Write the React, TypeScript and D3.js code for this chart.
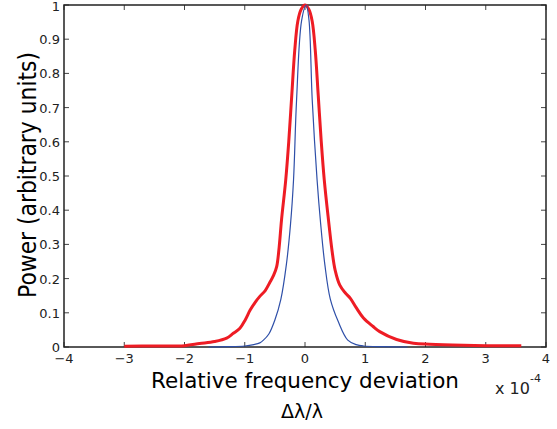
import React, { useEffect, useRef } from "react";
import * as d3 from "d3";

// x in units of 1e-4, y normalised power
const redX = [-3.0, -2.5, -2.0, -1.75, -1.5, -1.3, -1.19, -1.08, -0.99, -0.91, -0.83, -0.75, -0.66, -0.58, -0.52, -0.47, -0.43, -0.39, -0.32, -0.27, -0.22, -0.17, -0.12, -0.065, 0, 0.065, 0.12, 0.17, 0.22, 0.27, 0.32, 0.39, 0.45, 0.5, 0.58, 0.67, 0.75, 0.85, 0.97, 1.13, 1.24, 1.52, 1.8, 2.07, 2.63, 3.0, 3.59];
const redY = [0.002, 0.003, 0.004, 0.01, 0.016, 0.026, 0.04, 0.055, 0.08, 0.108, 0.13, 0.148, 0.165, 0.19, 0.21, 0.235, 0.29, 0.371, 0.488, 0.6, 0.735, 0.868, 0.952, 0.987, 1, 0.987, 0.952, 0.868, 0.735, 0.6, 0.488, 0.371, 0.28, 0.225, 0.18, 0.158, 0.143, 0.115, 0.085, 0.06, 0.045, 0.022, 0.011, 0.008, 0.005, 0.004, 0.004];

const blueX = [-1.6, -1.3, -1.0, -0.85, -0.75, -0.69, -0.6, -0.5, -0.4, -0.31, -0.24, -0.19, -0.14, -0.055, 0.02, 0.066, 0.12, 0.2, 0.26, 0.33, 0.42, 0.55, 0.71, 0.85, 0.97, 1.3, 1.7];
const blueY = [0, 0.001, 0.003, 0.007, 0.012, 0.02, 0.038, 0.079, 0.14, 0.24, 0.36, 0.49, 0.722, 0.956, 1, 0.956, 0.722, 0.49, 0.36, 0.24, 0.14, 0.075, 0.02, 0.007, 0.003, 0.001, 0];

const xTicks = [-4, -3, -2, -1, 0, 1, 2, 3, 4];
const yTicks = [0, 0.1, 0.2, 0.3, 0.4, 0.5, 0.6, 0.7, 0.8, 0.9, 1];

export default function App() {
  const ref = useRef<SVGSVGElement>(null);

  useEffect(() => {
    const svg = d3.select(ref.current);
    svg.selectAll("*").remove();

    const left = 64, right = 546, top = 5, bottom = 347;
    const x = d3.scaleLinear().domain([-4, 4]).range([left, right]);
    const y = d3.scaleLinear().domain([0, 1]).range([bottom, top]);
    const font = "DejaVu Sans, Verdana, sans-serif";
    const tickColor = "#444";

    // ticks on all four sides, pointing inward
    const g = svg.append("g");
    xTicks.forEach((t) => {
      g.append("line").attr("x1", x(t)).attr("x2", x(t)).attr("y1", bottom).attr("y2", bottom - 5).attr("stroke", tickColor);
      g.append("line").attr("x1", x(t)).attr("x2", x(t)).attr("y1", top).attr("y2", top + 5).attr("stroke", tickColor);
      g.append("text")
        .attr("x", x(t))
        .attr("y", 363)
        .attr("text-anchor", "middle")
        .attr("font-family", font)
        .attr("font-size", 13)
        .attr("fill", "#222")
        .text(t < 0 ? "\u2212" + Math.abs(t) : String(t));
    });
    yTicks.forEach((t) => {
      g.append("line").attr("x1", left).attr("x2", left + 5).attr("y1", y(t)).attr("y2", y(t)).attr("stroke", tickColor);
      g.append("line").attr("x1", right).attr("x2", right - 5).attr("y1", y(t)).attr("y2", y(t)).attr("stroke", tickColor);
      g.append("text")
        .attr("x", 60)
        .attr("y", Math.max(y(t) + 5, 11))
        .attr("text-anchor", "end")
        .attr("font-family", font)
        .attr("font-size", 13)
        .attr("fill", "#222")
        .text(d3.format("~g")(t));
    });

    g.append("rect")
      .attr("x", left)
      .attr("y", top)
      .attr("width", right - left)
      .attr("height", bottom - top)
      .attr("fill", "none")
      .attr("stroke", "#222")
      .attr("stroke-width", 1.5);

    const line = d3
      .line<[number, number]>()
      .x((d) => x(d[0]))
      .y((d) => y(d[1]))
      .curve(d3.curveCatmullRom.alpha(0.5));

    svg.append("path")
      .attr("d", line(redX.map((v, i) => [v, redY[i]] as [number, number])))
      .attr("fill", "none")
      .attr("stroke", "#ee1c24")
      .attr("stroke-width", 3);

    svg.append("path")
      .attr("d", line(blueX.map((v, i) => [v, blueY[i]] as [number, number])))
      .attr("fill", "none")
      .attr("stroke", "#2e4fa8")
      .attr("stroke-width", 1.2);

    svg.append("text")
      .attr("x", 305)
      .attr("y", 388)
      .attr("text-anchor", "middle")
      .attr("font-family", font)
      .attr("font-size", 22)
      .attr("textLength", 308)
      .attr("lengthAdjust", "spacingAndGlyphs")
      .text("Relative frequency deviation");

    svg.append("text")
      .attr("x", 302)
      .attr("y", 418)
      .attr("text-anchor", "middle")
      .attr("font-family", font)
      .attr("font-size", 19)
      .text("\u0394\u03bb/\u03bb");

    svg.append("text")
      .attr("x", 36)
      .attr("y", 175)
      .attr("transform", "rotate(-90 36 175)")
      .attr("text-anchor", "middle")
      .attr("font-family", font)
      .attr("font-size", 24)
      .attr("textLength", 246)
      .attr("lengthAdjust", "spacingAndGlyphs")
      .text("Power (arbitrary units)");

    const ex = svg.append("text")
      .attr("x", 495)
      .attr("y", 394)
      .attr("font-family", font)
      .attr("font-size", 16)
      .attr("fill", "#222");
    ex.append("tspan").text("x 10");
    ex.append("tspan").attr("dy", -12).attr("font-size", 11).text("-4");
  }, []);

  return (
    <svg
      ref={ref}
      width={557}
      height={429}
      style={{ position: "absolute", left: 0, top: 0, background: "#fff" }}
    />
  );
}
